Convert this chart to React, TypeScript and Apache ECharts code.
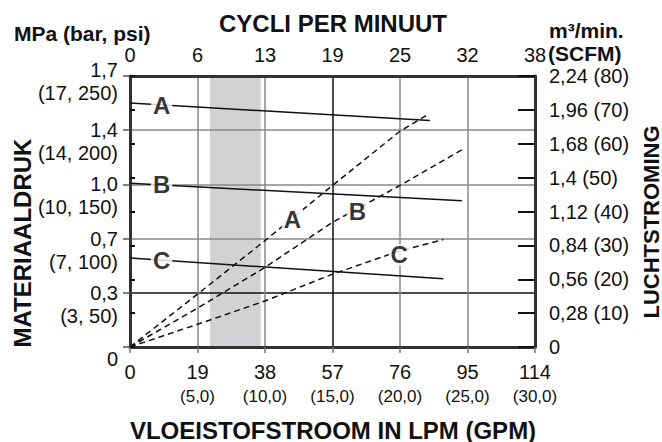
import { useEffect, useRef } from "react";
import * as echarts from "echarts";

// ---- axis ticks & labels ----
const lpmTicks = [0, 19, 38, 57, 76, 95, 114];
const gpmLabels = ["", "(5,0)", "(10,0)", "(15,0)", "(20,0)", "(25,0)", "(30,0)"];
const cycleLabels = ["0", "6", "13", "19", "25", "32", "38"];
const psiTicks = [0, 50, 100, 150, 200, 250];
const mpaLabels = ["0", "0,3", "0,7", "1,0", "1,4", "1,7"];
const barPsiLabels = ["", "(3, 50)", "(7, 100)", "(10, 150)", "(14, 200)", "(17, 250)"];
const scfmTicks = [0, 10, 20, 30, 40, 50, 60, 70, 80];
const airLabels = ["0", "0,28 (10)", "0,56 (20)", "0,84 (30)", "1,12 (40)", "1,4 (50)", "1,68 (60)", "1,96 (70)", "2,24 (80)"];

// ---- material pressure (psi) vs fluid flow (LPM) ----
const pressureA = [[0, 225], [84.4, 209]];
const pressureB = [[0, 151], [93.4, 135]];
const pressureC = [[0, 82], [88.2, 63]];

// ---- air consumption (SCFM) vs fluid flow (LPM) ----
const airA = [[0, 0], [19, 15.6], [38, 31.4], [57, 47.7], [76, 63.7], [83.5, 68.4]];
const airB = [[0, 0], [19.2, 11.6], [38, 23.5], [57, 36.8], [76, 47.7], [93.6, 58.3]];
const airC = [[0, 0], [19, 6.7], [38, 13.6], [57, 21.5], [76, 28.4], [88.2, 31.7]];

// ---- recommended range (LPM) ----
const bandRange = [22.5, 36.8];

// ---- curve letters (LPM, psi) ----
const letterNames = ["A", "B", "C", "A", "B", "C"];
const letterX = [8.9, 8.9, 8.9, 45.7, 64, 75.8];
const letterY = [223, 150, 80, 117.8, 125.2, 84.9];

const FONT = "'Liberation Sans', Arial, Helvetica, sans-serif";
const xGridColors = ["#888", "#888", "#888", "#111", "#888", "#888", "#888"];
const yGridColors = ["#888", "#111", "#888", "#888", "#888", "#888"];

export default function App() {
  const ref = useRef<HTMLDivElement>(null);
  useEffect(() => {
    if (!ref.current) return;
    const chart = echarts.init(ref.current, undefined, { renderer: "svg" });
    const border = { show: true, onZero: false, lineStyle: { color: "#333", width: 3 } };
    const solid = (data: number[][]) => ({
      type: "line", xAxisIndex: 0, yAxisIndex: 0, data, symbol: "none", z: 2,
      lineStyle: { color: "#111", width: 1.5 }, silent: true,
    });
    const dashed = (data: number[][]) => ({
      type: "line", xAxisIndex: 0, yAxisIndex: 1, data, symbol: "none", z: 2,
      lineStyle: { color: "#111", width: 1.5, type: [6, 4] }, silent: true,
    });
    chart.setOption({
      animation: false,
      textStyle: { fontFamily: FONT, color: "#111" },
      grid: { left: 130, right: 127, top: 76, bottom: 95 },
      xAxis: [
        {
          type: "value", position: "bottom", min: 0, max: 114, interval: 19, z: 1,
          axisLine: border,
          axisTick: { show: true, length: 6, lineStyle: { color: "#777", width: 1.5 } },
          splitLine: { show: true, lineStyle: { color: xGridColors, width: 1.5 } },
          axisLabel: {
            margin: 13, color: "#111",
            formatter: (v: number) => {
              const i = lpmTicks.indexOf(v);
              return gpmLabels[i] ? `{n|${lpmTicks[i]}}\n{g|${gpmLabels[i]}}` : `{n|${lpmTicks[i]}}`;
            },
            rich: {
              n: { fontSize: 20, lineHeight: 24, fontFamily: FONT, color: "#111" },
              g: { fontSize: 17, lineHeight: 25, fontFamily: FONT, color: "#111" },
            },
          },
        },
        {
          type: "value", position: "top", min: 0, max: 114, interval: 19, z: 1,
          axisLine: border, axisTick: { show: false }, splitLine: { show: false },
          axisLabel: {
            margin: 11, fontSize: 20, lineHeight: 20, color: "#111",
            formatter: (v: number) => cycleLabels[lpmTicks.indexOf(v)] ?? "",
          },
        },
      ],
      yAxis: [
        {
          type: "value", position: "left", min: 0, max: 250, interval: 50, z: 1,
          axisLine: border,
          axisTick: { show: true, length: 7, lineStyle: { color: "#555", width: 1.5 } },
          splitLine: { show: true, lineStyle: { color: yGridColors, width: 1.5 } },
          axisLabel: {
            margin: 12, padding: [23, 0, 0, 0], color: "#111",
            formatter: (v: number) => {
              const i = psiTicks.indexOf(v);
              if (!barPsiLabels[i]) return `{m|${mpaLabels[i]}}`;
              const base = `{m|${mpaLabels[i]}}\n{p|${barPsiLabels[i]}}`;
              return i === psiTicks.length - 1 ? `${base}\n{e| }` : base;
            },
            rich: {
              m: { fontSize: 20, lineHeight: 23, align: "right", fontFamily: FONT, color: "#111" },
              p: { fontSize: 20, lineHeight: 23, align: "right", fontFamily: FONT, color: "#111" },
              e: { fontSize: 10, lineHeight: 12 },
            },
          },
        },
        {
          type: "value", position: "right", min: 0, max: 80, interval: 10, z: 1,
          axisLine: border,
          axisTick: { show: true, inside: true, length: 17, lineStyle: { color: "#111", width: 2 } },
          splitLine: { show: false },
          axisLabel: {
            margin: 14, fontSize: 20, color: "#111",
            formatter: (v: number) => airLabels[scfmTicks.indexOf(v)] ?? "",
          },
        },
        {
          type: "value", position: "right", min: 0, max: 80, interval: 10, z: 1,
          axisLine: { show: false },
          axisTick: { show: true, length: 5, lineStyle: { color: "#111", width: 2 } },
          axisLabel: { show: false }, splitLine: { show: false },
        },
      ],
      graphic: [
        { type: "text", x: 14, y: 33, style: { text: "MPa (bar, psi)", fontSize: 21, fontWeight: "bold", fontFamily: FONT, fill: "#111", textAlign: "left", textVerticalAlign: "middle" } },
        { type: "text", x: 333, y: 23, style: { text: "CYCLI PER MINUUT", fontSize: 24, fontWeight: "bold", fontFamily: FONT, fill: "#111", textAlign: "center", textVerticalAlign: "middle" } },
        { type: "text", x: 549, y: 30, style: { text: "m³/min.", fontSize: 21, fontWeight: "bold", fontFamily: FONT, fill: "#111", textAlign: "left", textVerticalAlign: "middle" } },
        { type: "text", x: 548, y: 53, style: { text: "(SCFM)", fontSize: 21, fontWeight: "bold", fontFamily: FONT, fill: "#111", textAlign: "left", textVerticalAlign: "middle" } },
        { type: "text", x: 22.5, y: 243, rotation: Math.PI / 2, style: { text: "MATERIAALDRUK", fontSize: 24, fontWeight: "bold", fontFamily: FONT, fill: "#111", textAlign: "center", textVerticalAlign: "middle" } },
        { type: "text", x: 651, y: 222, rotation: Math.PI / 2, style: { text: "LUCHTSTROMING", fontSize: 22, fontWeight: "bold", fontFamily: FONT, fill: "#111", textAlign: "center", textVerticalAlign: "middle" } },
        { type: "text", x: 333, y: 430, style: { text: "VLOEISTOFSTROOM IN LPM (GPM)", fontSize: 24, fontWeight: "bold", fontFamily: FONT, fill: "#111", textAlign: "center", textVerticalAlign: "middle" } },
      ],
      series: [
        {
          type: "line", xAxisIndex: 0, yAxisIndex: 0, data: [], z: 0, silent: true,
          markArea: {
            silent: true, z: 0,
            itemStyle: { color: "#d2d2d4" },
            data: [[{ xAxis: bandRange[0] }, { xAxis: bandRange[1] }]],
          },
        },
        solid(pressureA), solid(pressureB), solid(pressureC),
        dashed(airA), dashed(airB), dashed(airC),
        {
          type: "scatter", xAxisIndex: 0, yAxisIndex: 0, z: 3, silent: true,
          symbolSize: 1, itemStyle: { color: "rgba(0,0,0,0)" },
          data: letterNames.map((n, i) => ({ name: n, value: [letterX[i], letterY[i]] })),
          label: {
            show: true, position: "inside", formatter: "{b}",
            fontSize: 24, fontWeight: "bold", fontFamily: FONT, color: "#000",
            backgroundColor: "#fff", padding: [0, 2], lineHeight: 22,
          },
        },
      ],
    });
    return () => chart.dispose();
  }, []);
  return <div ref={ref} style={{ position: "absolute", left: 0, top: 0, width: 662, height: 442 }} />;
}
